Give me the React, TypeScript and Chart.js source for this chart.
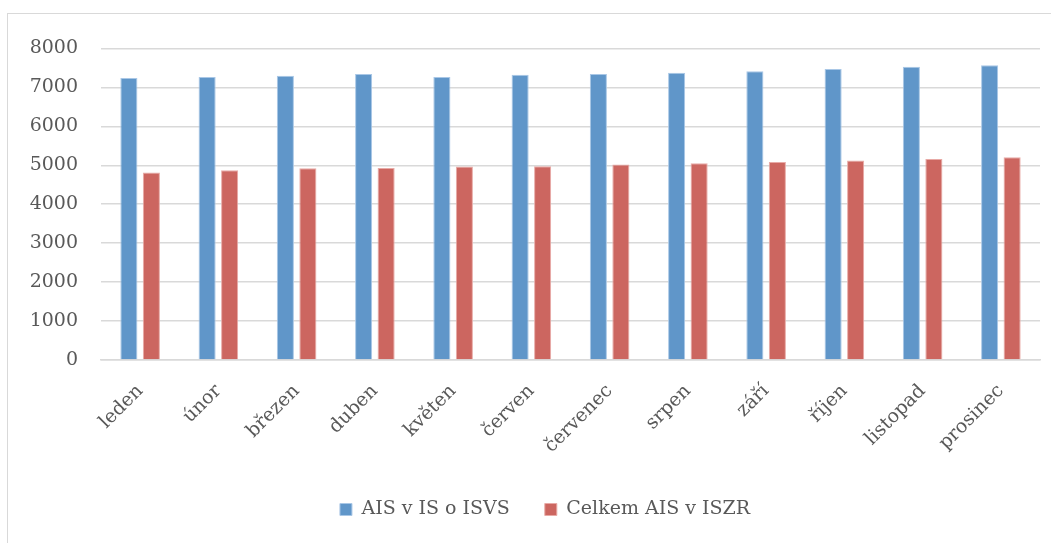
import React, { useEffect, useRef } from "react";
import { Chart, registerables } from "chart.js";

Chart.register(...registerables);

const months = [
  "leden", "únor", "březen", "duben", "květen", "červen",
  "červenec", "srpen", "září", "říjen", "listopad", "prosinec",
];
const aisIsvs = [7242, 7267, 7300, 7343, 7267, 7326, 7343, 7377, 7412, 7472, 7532, 7566];
const aisIszr = [4812, 4871, 4923, 4931, 4966, 4974, 5017, 5051, 5085, 5120, 5162, 5206];
const seriesNames = ["AIS v IS o ISVS", "Celkem AIS v ISZR"];
const yTicks = [0, 1000, 2000, 3000, 4000, 5000, 6000, 7000, 8000];

const legendShift = {
  id: "legendShift",
  afterLayout(chart: any) {
    if (chart.legend) chart.legend.left += 42;
  },
};

export default function App() {
  const ref = useRef<HTMLCanvasElement | null>(null);
  useEffect(() => {
    if (!ref.current) return;
    const font = { family: "'DejaVu Serif', serif", size: 19 };
    const chart = new Chart(ref.current, {
      type: "bar",
      data: {
        labels: months,
        datasets: [
          {
            label: seriesNames[0],
            data: aisIsvs,
            backgroundColor: "#6096C9",
            borderColor: "#A9C7E6",
            borderWidth: 1,
            categoryPercentage: 0.575,
            barPercentage: 0.76,
          },
          {
            label: seriesNames[1],
            data: aisIszr,
            backgroundColor: "#CC6660",
            borderColor: "#E8AAA6",
            borderWidth: 1,
            categoryPercentage: 0.575,
            barPercentage: 0.76,
          },
        ],
      },
      plugins: [legendShift],
      options: {
        animation: false,
        responsive: false,
        maintainAspectRatio: false,
        layout: { padding: { top: 22, right: 10, bottom: 25, left: 0 } },
        plugins: {
          legend: {
            position: "bottom",
            labels: {
              font,
              color: "#595959",
              boxWidth: 12,
              boxHeight: 12,
              padding: 35,
            },
          },
          tooltip: { enabled: false },
        },
        scales: {
          x: {
            grid: { display: false, drawTicks: false },
            border: { display: true, color: "#D9D9D9", width: 1.5 },
            ticks: {
              font,
              color: "#595959",
              maxRotation: 45,
              minRotation: 45,
              autoSkip: false,
              padding: 20,
            },
            afterFit: (axis: any) => {
              axis.height = 105;
            },
          },
          y: {
            min: 0,
            max: 8000,
            afterBuildTicks: (axis: any) => {
              axis.ticks = yTicks.map((v) => ({ value: v }));
            },
            grid: { color: "#D9D9D9", lineWidth: 1.5, drawTicks: false },
            border: { display: false },
            ticks: {
              font,
              color: "#595959",
              padding: 23,
              callback: (v: any) => String(v),
            },
            afterFit: (axis: any) => {
              axis.width = 93;
            },
          },
        },
      },
    });
    return () => chart.destroy();
  }, []);
  return (
    <div
      style={{
        position: "absolute",
        left: 7,
        top: 13,
        width: 1043,
        height: 530,
        overflow: "hidden",
        borderLeft: "1.5px solid #D9D9D9",
        borderTop: "1.5px solid #D9D9D9",
        background: "#fff",
      }}
    >
      <canvas
        ref={ref}
        width={1042}
        height={540}
        style={{ position: "absolute", left: 0, top: 0 }}
      />
    </div>
  );
}
